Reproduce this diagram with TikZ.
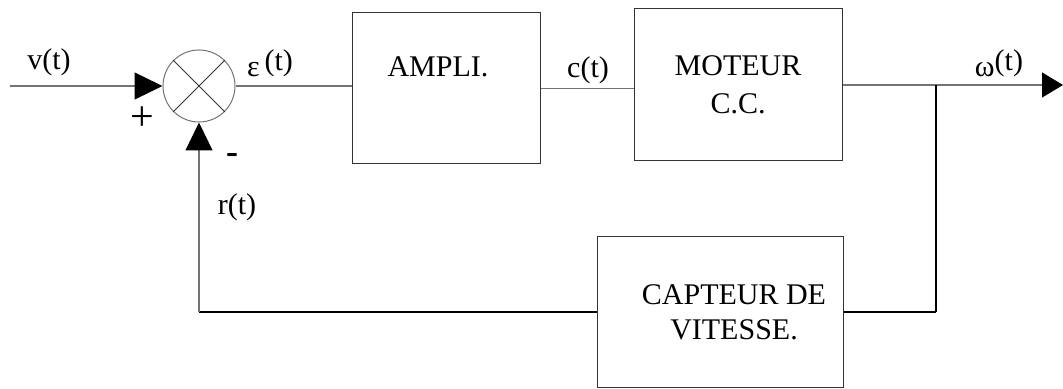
\documentclass[tikz,border=0pt]{standalone}
\usepackage{fontspec}
\setmainfont{Liberation Serif}
\usetikzlibrary{arrows.meta,calc}
\begin{document}
\begin{tikzpicture}[x=0.5pt,y=-0.5pt,
  every node/.style={font=\fontsize{15}{18}\selectfont},
  blk/.style={draw=black!80,line width=0.5pt,rectangle,inner sep=0pt},
  wire/.style={draw=black!55,line width=0.6pt},
  fb/.style={draw=black,line width=1.1pt},
  fbthin/.style={draw=black,line width=0.6pt},
  tip/.style={-{Triangle[length=14pt,width=13.5pt,color=black,fill=black]}},
  lbl/.style={inner sep=0pt}
]
\useasboundingbox (0,0) rectangle (1063,389);

% summing junction
\node[circle,draw=black!55,line width=0.5pt,minimum size=36pt,inner sep=0pt] (sum) at (199,86) {};
\draw[black!80,line width=0.5pt] (sum.north east) -- (sum.south west);
\draw[black!80,line width=0.5pt] (sum.north west) -- (sum.south east);

% blocks
\node[blk,minimum width=94pt,minimum height=75.5pt] (ampli) at (446,88.5) {};
\node[lbl] (amplitxt) at (438,67) {AMPLI.};
\node[blk,minimum width=104pt,minimum height=76pt,align=center,font=\fontsize{15}{19}\selectfont] (moteur) at (738,85) {MOTEUR\\C.C.};
\node[blk,minimum width=123pt,minimum height=75pt,align=center,font=\fontsize{15}{17.5}\selectfont] (capteur) at (720,312) {\hspace*{14pt}CAPTEUR DE\\\hspace*{14pt}VITESSE.};

% coordinates
\coordinate (in) at (10,86);
\coordinate (out) at (1063,85);
\coordinate (j) at (936,85);
\coordinate (jb) at (936,312);
\coordinate (fl) at (199,312);

% connectors
\draw[wire,tip] (in) -- (sum.west);
\draw[wire] (sum.east) -- (sum.east -| ampli.west);
\draw[wire] (ampli.east) -- (ampli.east -| moteur.west);
\draw[wire,-{Triangle[length=10.5pt,width=12.5pt,color=black,fill=black]}] (moteur.east) -- (out);
\draw[fb] (j) -- (jb);
\draw[fbthin] (jb) -- (capteur.east);
\draw[fb] (capteur.west) -- (fl);
\draw[wire,tip] (fl) -- (sum.south);

% labels
\node[lbl] (vlbl) at (49,62) {v(t)};
\node[lbl] (elbl) at (270,63) {ε\,\raisebox{3pt}{(t)}};
\node[lbl] (clbl) at (588,70) {c(t)};
\node[lbl] (wlbl) at (999,63) {ω\raisebox{3pt}{(t)}};
\node[lbl,font=\fontsize{21}{24}\selectfont] (plus) at (142,119) {+};
\node[lbl,font=\fontsize{18}{20}\selectfont\bfseries] (minus) at (232,159) {-};
\node[lbl] (rlbl) at (237,207) {r(t)};
\end{tikzpicture}
\end{document}
